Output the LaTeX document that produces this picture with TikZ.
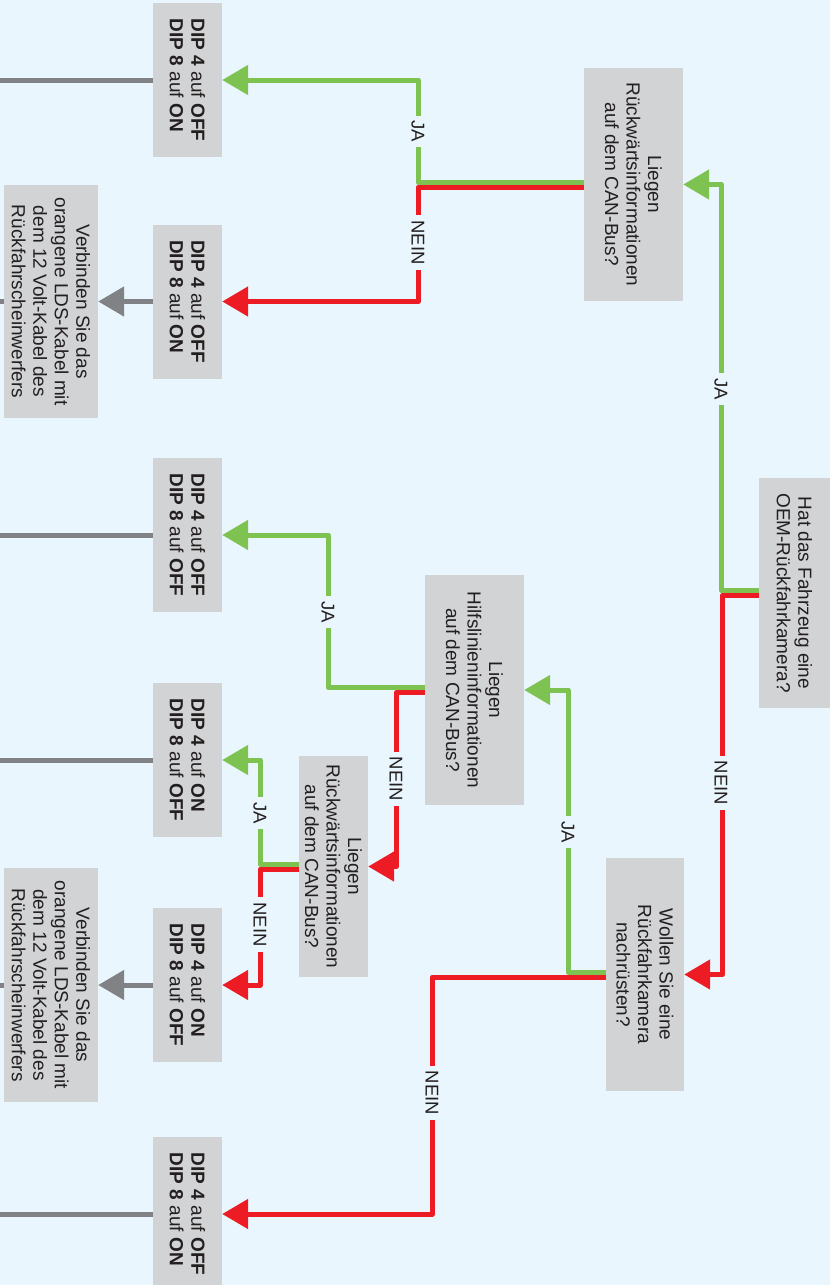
\documentclass[tikz,border=0pt]{standalone}
\usepackage{fontspec}
\setmainfont{Liberation Sans}
\usetikzlibrary{arrows.meta,calc}
\definecolor{bgc}{RGB}{234,246,253}
\definecolor{boxc}{RGB}{209,211,212}
\definecolor{grn}{RGB}{126,194,81}
\definecolor{rd}{RGB}{237,28,36}
\definecolor{gry}{RGB}{128,130,133}
\definecolor{txt}{RGB}{35,31,32}
\begin{document}
\begin{tikzpicture}[x=1pt,y=-1pt,
  box/.style={fill=boxc, rotate=-90, inner sep=0pt, text=txt, align=center,
    font=\fontsize{19}{21.5}\selectfont},
  dipbox/.style={box, align=left, minimum width=154pt, minimum height=69pt},
  lbl/.style={fill=bgc, rotate=-90, inner xsep=5pt, inner ysep=1pt, text=txt,
    font=\fontsize{18.5}{20}\selectfont},
  conn/.style={line width=5pt, line join=round},
  tip/.style={-{Triangle[length=26pt,width=29pt]}},
  gline/.style={conn, draw=grn, tip},
  rline/.style={conn, draw=rd, tip},
  kline/.style={conn, draw=gry},
  karrow/.style={conn, draw=gry, tip}
]
\clip (0,0) rectangle (830,1285);
\fill[bgc] (0,0) rectangle (830,1285);

% decision boxes
\node[box, minimum width=230pt, minimum height=71pt] (hat) at (794.5,593)
  {Hat das Fahrzeug eine\\OEM-Rückfahrkamera?};
\node[box, minimum width=233pt, minimum height=99pt] (lieg1) at (633.5,184.5)
  {Liegen\\Rückwärtsinformationen\\auf dem CAN-Bus?};
\node[box, minimum width=233pt, minimum height=78pt] (woll) at (645,974.5)
  {Wollen Sie eine\\Rückfahrkamera\\nachrüsten?};
\node[box, minimum width=230pt, minimum height=99pt] (hilf) at (474.5,690)
  {Liegen\\Hilfslinieninformationen\\auf dem CAN-Bus?};
\node[box, minimum width=221pt, minimum height=69pt] (lieg2) at (333.5,866.5)
  {Liegen\\Rückwärtsinformationen\\auf dem CAN-Bus?};

% result boxes
\node[dipbox] (dipA) at (187.5,80)
  {\textbf{DIP 4} auf \textbf{OFF}\\\textbf{DIP 8} auf \textbf{ON}};
\node[dipbox] (dipB) at (187.5,301.5)
  {\textbf{DIP 4} auf \textbf{OFF}\\\textbf{DIP 8} auf \textbf{ON}};
\node[dipbox] (dipC) at (187.5,535)
  {\textbf{DIP 4} auf \textbf{OFF}\\\textbf{DIP 8} auf \textbf{OFF}};
\node[dipbox] (dipD) at (187.5,760)
  {\textbf{DIP 4} auf \textbf{ON}\\\textbf{DIP 8} auf \textbf{OFF}};
\node[dipbox] (dipE) at (187.5,985)
  {\textbf{DIP 4} auf \textbf{ON}\\\textbf{DIP 8} auf \textbf{OFF}};
\node[dipbox] (dipF) at (187.5,1214)
  {\textbf{DIP 4} auf \textbf{OFF}\\\textbf{DIP 8} auf \textbf{ON}};

\node[box, minimum width=233pt, minimum height=94pt] (verb1) at (51,301.5)
  {Verbinden Sie das\\orangene LDS-Kabel mit\\dem 12 Volt-Kabel des\\Rückfahrscheinwerfers};
\node[box, minimum width=234pt, minimum height=94pt] (verb2) at (51,985)
  {Verbinden Sie das\\orangene LDS-Kabel mit\\dem 12 Volt-Kabel des\\Rückfahrscheinwerfers};

% free ends at the left margin
\coordinate (lA) at ($(dipA.south)-(160,0)$);
\coordinate (lC) at ($(dipC.south)-(160,0)$);
\coordinate (lD) at ($(dipD.south)-(160,0)$);
\coordinate (lF) at ($(dipF.south)-(160,0)$);
\coordinate (lV1) at ($(verb1.south)-(10,0)$);
\coordinate (lV2) at ($(verb2.south)-(10,0)$);

% grey connectors
\draw[kline] (dipA.south) -- (lA);
\draw[kline] (dipC.south) -- (lC);
\draw[kline] (dipD.south) -- (lD);
\draw[kline] (dipF.south) -- (lF);
\draw[karrow] (dipB.south) -- (verb1.north);
\draw[karrow] (dipE.south) -- (verb2.north);
\draw[kline] (verb1.south) -- (lV1);
\draw[kline] (verb2.south) -- (lV2);

% green (JA) connectors
\draw[gline] ($(hat.south)+(0,-2.5)$) -| ($(lieg1.north)+(38,0)$) -- (lieg1.north);
\draw[gline] ($(lieg1.south)+(0,-2.5)$) -| ($(dipA.north)+(196,0)$) -- (dipA.north);
\draw[gline] ($(woll.south)+(0,-2.5)$) -| ($(hilf.north)+(44,0)$) -- (hilf.north);
\draw[gline] ($(hilf.south)+(0,-2.5)$) -| ($(dipC.north)+(106,0)$) -- (dipC.north);
\draw[gline] ($(lieg2.south)+(0,-2.5)$) -| ($(dipD.north)+(38,0)$) -- (dipD.north);

% red (NEIN) connectors
\draw[rline] ($(hat.south)+(0,2.5)$) -| ($(woll.north)+(38,0)$) -- (woll.north);
\draw[rline] ($(lieg1.south)+(0,2.5)$) -| ($(dipB.north)+(196,0)$) -- (dipB.north);
\draw[rline] ($(woll.south)+(0,2.5)$) -| ($(dipF.north)+(210,0)$) -- (dipF.north);
\draw[rline] ($(hilf.south)+(0,2.5)$) -| ($(lieg2.north)+(28,0)$) -- (lieg2.north);
\draw[rline] ($(lieg2.south)+(0,2.5)$) -| ($(dipE.north)+(38,0)$) -- (dipE.north);

% labels
\node[lbl] (ja1) at (721,389) {JA};
\node[lbl] (nein1) at (721,783) {NEIN};
\node[lbl] (ja2) at (418,131.5) {JA};
\node[lbl] (nein2) at (418,242.5) {NEIN};
\node[lbl] (ja3) at (568,832) {JA};
\node[lbl] (nein3) at (432,1093) {NEIN};
\node[lbl] (ja4) at (328,612) {JA};
\node[lbl] (nein4) at (396,779) {NEIN};
\node[lbl] (ja5) at (260,813) {JA};
\node[lbl] (nein5) at (260,924.5) {NEIN};
\end{tikzpicture}
\end{document}
